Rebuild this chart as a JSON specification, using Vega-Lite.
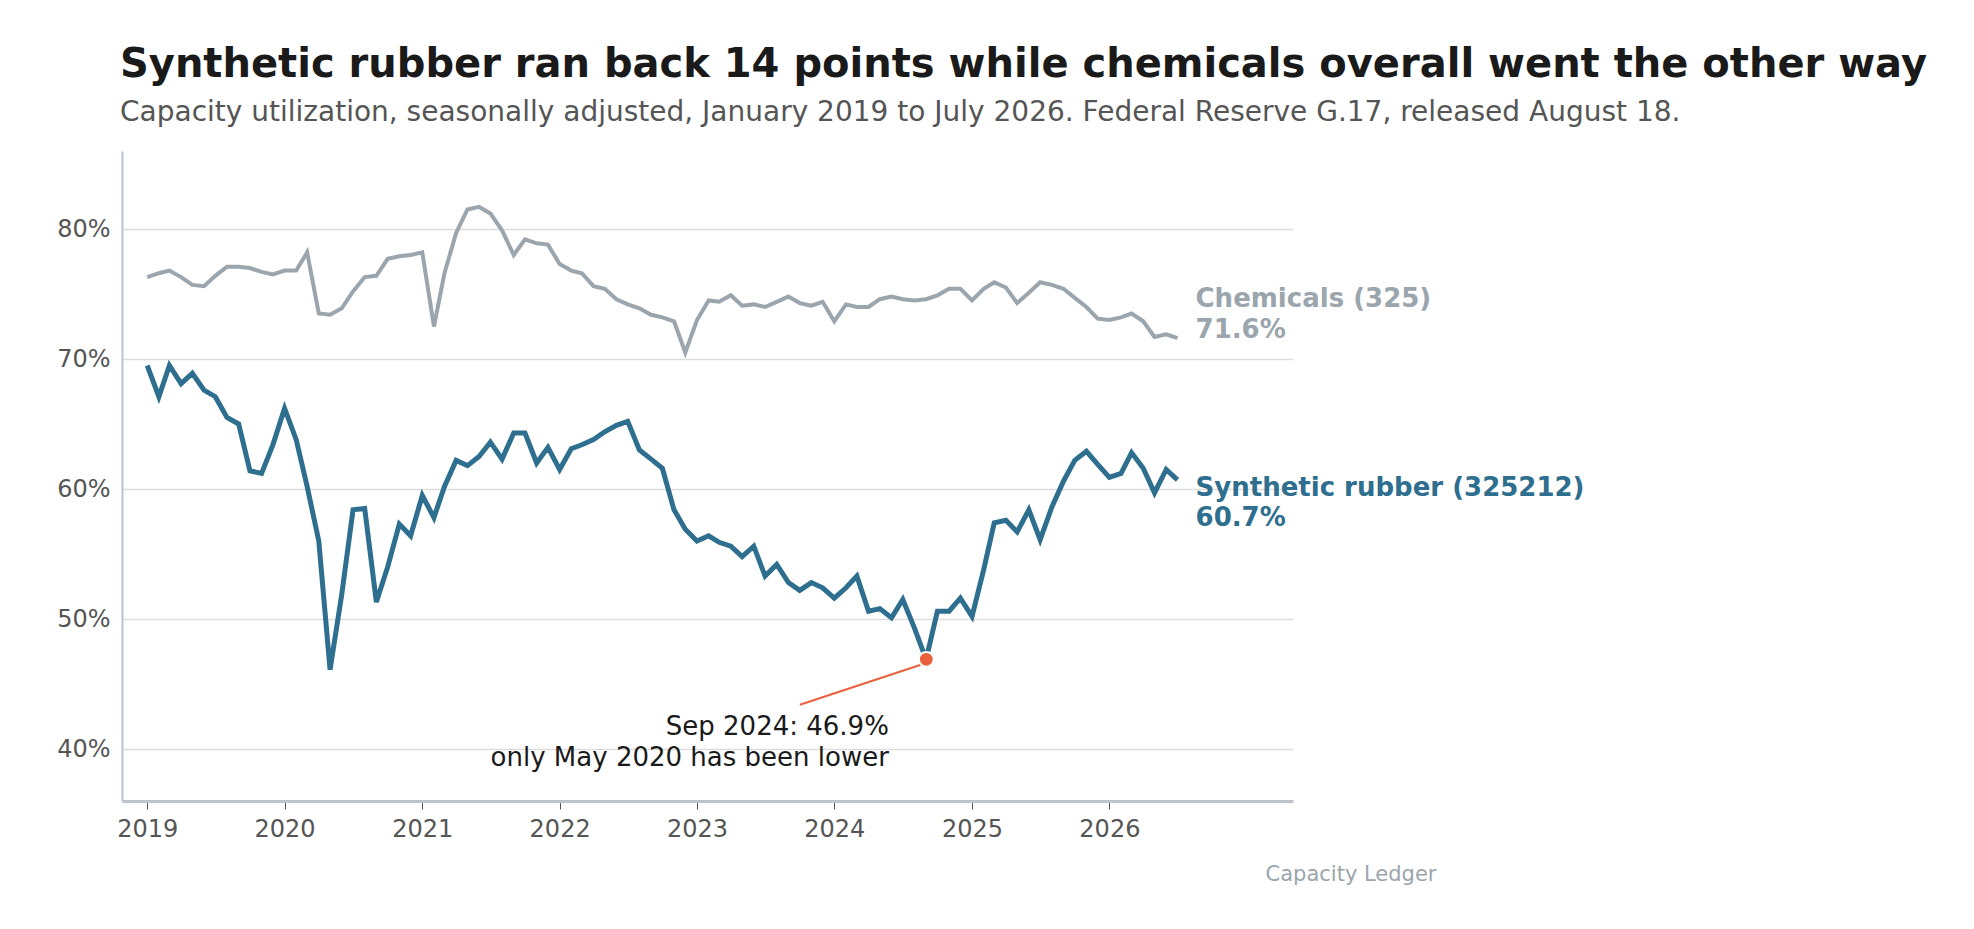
{
"$schema":"https://vega.github.io/schema/vega-lite/v6.json",
"width":1171,"height":650,
"autosize":{"type":"none"},
"padding":{"left":122,"top":151,"right":681,"bottom":128},
"background":"white",
"config":{"font":"DejaVu Sans","view":{"stroke":null}},
"title":{"text":"Synthetic rubber ran back 14 points while chemicals overall went the other way","subtitle":"Capacity utilization, seasonally adjusted, January 2019 to July 2026. Federal Reserve G.17, released August 18.","anchor":"start","frame":"group","offset":24,"fontSize":40,"fontWeight":"bold","color":"#1a1a1a","subtitleFontSize":28,"subtitleColor":"#555555","subtitlePadding":14,"dx":-2},
"datasets":{
"rubber":[69.5,67.1,69.5,68.1,68.9,67.6,67.1,65.5,65.0,61.4,61.2,63.4,66.2,63.8,60.2,56.0,46.1,51.9,58.4,58.5,51.3,54.0,57.3,56.4,59.5,57.8,60.2,62.2,61.8,62.5,63.6,62.3,64.3,64.3,62.0,63.2,61.5,63.1,63.4,63.8,64.4,64.9,65.2,63.0,62.3,61.6,58.4,56.9,56.0,56.4,55.9,55.6,54.8,55.6,53.3,54.2,52.8,52.2,52.8,52.4,51.6,52.4,53.3,50.6,50.8,50.1,51.5,49.3,46.9,50.6,50.6,51.6,50.2,53.8,57.4,57.6,56.7,58.4,56.1,58.6,60.6,62.2,62.9,61.9,60.9,61.2,62.8,61.6,59.7,61.5,60.7],
"chem":[76.3,76.6,76.8,76.3,75.7,75.6,76.4,77.1,77.1,77.0,76.7,76.5,76.8,76.8,78.2,73.5,73.4,73.9,75.2,76.3,76.4,77.7,77.9,78.0,78.2,72.5,76.6,79.7,81.5,81.7,81.2,79.9,78.0,79.2,78.9,78.8,77.3,76.8,76.6,75.6,75.4,74.6,74.2,73.9,73.4,73.2,72.9,70.5,73.0,74.5,74.4,74.9,74.1,74.2,74.0,74.4,74.8,74.3,74.1,74.4,72.9,74.2,74.0,74.0,74.6,74.8,74.6,74.5,74.6,74.9,75.4,75.4,74.5,75.4,75.9,75.5,74.3,75.1,75.9,75.7,75.4,74.7,74.0,73.1,73.0,73.2,73.5,72.9,71.7,71.9,71.6]
},
"data":{"values":[]},
"layer":[
{"data":{"name":"chem"},
 "transform":[{"window":[{"op":"row_number","as":"i"}]},{"calculate":"datetime(2019, datum.i-1, 1)","as":"date"}],
 "mark":{"type":"line","color":"#9aa5ad","strokeWidth":4},
 "encoding":{"x":{"field":"date","type":"temporal","scale":{"domain":[{"year":2018,"month":10,"date":26},{"year":2027,"month":5,"date":4}]},
   "axis":{"title":null,"format":"%Y","values":[{"year":2019},{"year":2020},{"year":2021},{"year":2022},{"year":2023},{"year":2024},{"year":2025},{"year":2026}],"labelFontSize":24,"labelColor":"#555555","labelPadding":8,"tickColor":"#555555","tickSize":8,"domainColor":"#bcc3ca","domainWidth":3,"grid":false}},
  "y":{"field":"data","type":"quantitative","scale":{"domain":[36,86],"nice":false},
   "axis":{"title":null,"values":[40,50,60,70,80],"labelExpr":"datum.value+'%'","labelFontSize":24,"labelColor":"#555555","ticks":false,"labelPadding":12,"domainColor":"#bcc3ca","domainWidth":2,"gridColor":"#dddddd","gridWidth":1.5}}}},
{"data":{"name":"rubber"},
 "transform":[{"window":[{"op":"row_number","as":"i"}]},{"calculate":"datetime(2019, datum.i-1, 1)","as":"date"}],
 "mark":{"type":"line","color":"#2e6e8e","strokeWidth":5},
 "encoding":{"x":{"field":"date","type":"temporal"},"y":{"field":"data","type":"quantitative"}}},
{"data":{"values":[{"d":"2024-08-20","v":46.5},{"d":"2023-10-01T12:00:00","v":43.4}]},
 "mark":{"type":"line","color":"#e8603c","strokeWidth":2},
 "encoding":{"x":{"field":"d","type":"temporal"},"y":{"field":"v","type":"quantitative"}}},
{"data":{"values":[{"d":"2024-09-01T12:00:00","v":46.9}]},
 "mark":{"type":"circle","color":"#e8603c","size":220,"opacity":1,"stroke":"white","strokeWidth":2},
 "encoding":{"x":{"field":"d","type":"temporal"},"y":{"field":"v","type":"quantitative"}}},
{"data":{"values":[{"d":"2024-05-25","v":41.7,"t":"Sep 2024: 46.9%"},{"d":"2024-05-25","v":39.3,"t":"only May 2020 has been lower"}]},
 "mark":{"type":"text","align":"right","baseline":"middle","fontSize":26,"color":"#1a1a1a"},
 "encoding":{"x":{"field":"d","type":"temporal"},"y":{"field":"v","type":"quantitative"},"text":{"field":"t"}}},
{"data":{"values":[{"d":"2026-08-18","v":74.6,"t":"Chemicals (325)","c":"#9aa5ad"},{"d":"2026-08-18","v":72.2,"t":"71.6%","c":"#9aa5ad"},{"d":"2026-08-18","v":60.1,"t":"Synthetic rubber (325212)","c":"#2e6e8e"},{"d":"2026-08-18","v":57.8,"t":"60.7%","c":"#2e6e8e"}]},
 "mark":{"type":"text","align":"left","baseline":"middle","fontSize":26,"fontWeight":"bold"},
 "encoding":{"x":{"field":"d","type":"temporal"},"y":{"field":"v","type":"quantitative"},"text":{"field":"t"},"color":{"field":"c","type":"nominal","scale":null}}},
{"data":{"values":[{"d":"2027-02-20","v":30.3,"t":"Capacity Ledger"}]},
 "mark":{"type":"text","align":"left","baseline":"middle","fontSize":21,"color":"#9aa5ad"},
 "encoding":{"x":{"field":"d","type":"temporal"},"y":{"field":"v","type":"quantitative"},"text":{"field":"t"}}}
]
}
